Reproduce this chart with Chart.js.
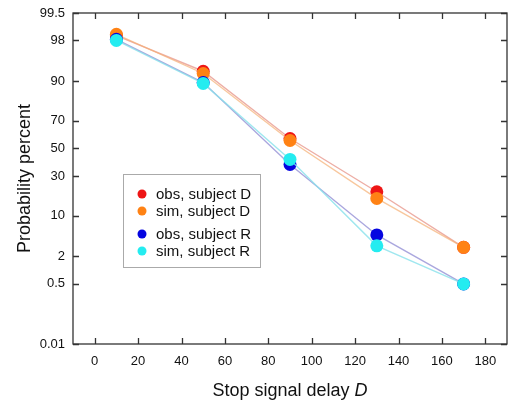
<!DOCTYPE html>
<html>
<head>
<meta charset="utf-8">
<script src="https://cdn.jsdelivr.net/npm/chart.js@4/dist/chart.umd.min.js"></script>
<style>
  html, body { margin: 0; padding: 0; background: #fff; }
  #wrap { width: 509px; height: 406px; }
</style>
</head>
<body>
<div id="wrap"><canvas id="probit"></canvas></div>
<script>
// stop signal delays (x) and response probabilities in percent
var delays = [10, 50, 90, 130, 170];
var obsD = [98.4, 92.9, 57.5, 20.5, 3.0];
var simD = [98.5, 92.3, 56.0, 17.1, 3.0];
var obsR = [98.1, 89.5, 38.0, 5.0, 0.5];
var simR = [98.0, 89.2, 41.7, 3.2, 0.5];

// probability-paper ticks
var yTickLabels = ['0.01', '0.5', '2', '10', '30', '50', '70', '90', '98', '99.5'];
var xTicks = [0, 20, 40, 60, 80, 100, 120, 140, 160, 180];

// inverse normal CDF (Acklam's approximation)
function probit(p) {
    var a = [-39.69683028665376, 220.9460984245205, -275.9285104469687, 138.3577518672690, -30.66479806614716, 2.506628277459239];
    var b = [-54.47609879822406, 161.5858368580409, -155.6989798598866, 66.80131188771972, -13.28068155288572];
    var c = [-0.007784894002430293, -0.3223964580411365, -2.400758277161838, -2.549732539343734, 4.374664141464968, 2.938163982698783];
    var d = [0.007784695709041462, 0.3224671290700398, 2.445134137142996, 3.754408661907416];
    var plow = 0.02425, q, r;
    if (p < plow) {
        q = Math.sqrt(-2 * Math.log(p));
        return (((((c[0]*q+c[1])*q+c[2])*q+c[3])*q+c[4])*q+c[5]) / ((((d[0]*q+d[1])*q+d[2])*q+d[3])*q+1);
    }
    if (p > 1 - plow) {
        q = Math.sqrt(-2 * Math.log(1 - p));
        return -(((((c[0]*q+c[1])*q+c[2])*q+c[3])*q+c[4])*q+c[5]) / ((((d[0]*q+d[1])*q+d[2])*q+d[3])*q+1);
    }
    q = p - 0.5;
    r = q * q;
    return (((((a[0]*r+a[1])*r+a[2])*r+a[3])*r+a[4])*r+a[5])*q / (((((b[0]*r+b[1])*r+b[2])*r+b[3])*r+b[4])*r+1);
}

function toPoints(values) {
    return values.map(function (v, i) { return {x: delays[i], y: probit(v / 100)}; });
}

var FONT = 'Arial, "Liberation Sans", Helvetica, sans-serif';

function series(label, values, dot, line, order) {
    return {
        label: label,
        data: toPoints(values),
        borderColor: line,
        borderWidth: 1.4,
        backgroundColor: dot,
        pointBackgroundColor: dot,
        pointBorderWidth: 0,
        pointRadius: 6.5,
        pointHoverRadius: 6.5,
        showLine: true,
        order: order
    };
}

// frame, inward tick marks, axis titles and the boxed legend
var decorations = {
    id: 'decorations',
    afterDraw: function (chart) {
        var ctx = chart.ctx, area = chart.chartArea;
        var xs = chart.scales.x, ys = chart.scales.y;
        ctx.save();
        ctx.strokeStyle = '#333';
        ctx.lineWidth = 1.3;
        ctx.strokeRect(area.left, area.top, area.right - area.left, area.bottom - area.top);

        ctx.beginPath();
        xTicks.forEach(function (t) {
            var px = Math.round(xs.getPixelForValue(t)) + 0.5;
            ctx.moveTo(px, area.bottom); ctx.lineTo(px, area.bottom - 6);
            ctx.moveTo(px, area.top); ctx.lineTo(px, area.top + 6);
        });
        yTickLabels.forEach(function (t) {
            var py = Math.round(ys.getPixelForValue(probit(parseFloat(t) / 100))) + 0.5;
            ctx.moveTo(area.left, py); ctx.lineTo(area.left + 6, py);
            ctx.moveTo(area.right, py); ctx.lineTo(area.right - 6, py);
        });
        ctx.stroke();

        // axis titles
        ctx.fillStyle = '#111';
        ctx.textBaseline = 'middle';
        ctx.font = '18px ' + FONT;
        var main = 'Stop signal delay ';
        var wMain = ctx.measureText(main).width;
        ctx.font = 'italic 18px ' + FONT;
        var wD = ctx.measureText('D').width;
        var cx = (area.left + area.right) / 2;
        var x0 = cx - (wMain + wD) / 2;
        ctx.textAlign = 'left';
        ctx.font = '18px ' + FONT;
        ctx.fillText(main, x0, 391);
        ctx.font = 'italic 18px ' + FONT;
        ctx.fillText('D', x0 + wMain, 391);

        ctx.save();
        ctx.translate(25, (area.top + area.bottom) / 2);
        ctx.rotate(-Math.PI / 2);
        ctx.textAlign = 'center';
        ctx.font = '18px ' + FONT;
        ctx.fillText('Probability percent', 0, 0);
        ctx.restore();

        // legend box with a gap between the two subjects
        ctx.strokeStyle = '#aaa';
        ctx.lineWidth = 1;
        ctx.strokeRect(123.5, 174.5, 137, 93);
        var rows = [194, 211, 234, 251];
        ctx.font = '15px ' + FONT;
        ctx.textAlign = 'left';
        chart.data.datasets.forEach(function (ds, i) {
            ctx.fillStyle = ds.pointBackgroundColor;
            ctx.beginPath();
            ctx.arc(142, rows[i], 4.5, 0, Math.PI * 2);
            ctx.fill();
            ctx.fillStyle = '#111';
            ctx.fillText(ds.label, 156, rows[i] + 1);
        });
        ctx.restore();
    }
};

new Chart(document.getElementById('probit'), {
    type: 'scatter',
    data: {
        datasets: [
            series('obs, subject D', obsD, '#ee1515', 'rgba(225,120,105,0.6)', 4),
            series('sim, subject D', simD, '#ff8214', 'rgba(245,175,115,0.7)', 3),
            series('obs, subject R', obsR, '#0505e0', 'rgba(125,120,205,0.65)', 2),
            series('sim, subject R', simR, '#24ecf0', 'rgba(135,225,235,0.8)', 1)
        ]
    },
    options: {
        responsive: true,
        maintainAspectRatio: false,
        animation: false,
        layout: {autoPadding: false, padding: {top: 13, right: 2, left: 0, bottom: 0}},
        plugins: {legend: {display: false}, tooltip: {enabled: false}},
        scales: {
            x: {
                type: 'linear',
                min: -10,
                max: 190,
                grid: {display: false, drawTicks: false},
                border: {display: false},
                afterBuildTicks: function (scale) {
                    scale.ticks = xTicks.map(function (v) { return {value: v}; });
                },
                afterFit: function (scale) {
                    scale.height = 62;
                    scale.paddingLeft = 0;
                    scale.paddingRight = 0;
                },
                ticks: {
                    padding: 10,
                    color: '#111',
                    font: {family: FONT, size: 13},
                    maxRotation: 0,
                    autoSkip: false
                }
            },
            y: {
                type: 'linear',
                min: probit(0.0001),
                max: probit(0.995),
                grid: {display: false, drawTicks: false},
                border: {display: false},
                afterBuildTicks: function (scale) {
                    scale.ticks = yTickLabels.map(function (t) {
                        return {value: probit(parseFloat(t) / 100)};
                    });
                },
                afterFit: function (scale) {
                    scale.width = 73;
                    scale.paddingTop = 0;
                    scale.paddingBottom = 0;
                },
                ticks: {
                    padding: 8,
                    color: '#111',
                    font: {family: FONT, size: 13},
                    autoSkip: false,
                    callback: function (value, index) { return yTickLabels[index]; }
                }
            }
        }
    },
    plugins: [decorations]
});
</script>
</body>
</html>
